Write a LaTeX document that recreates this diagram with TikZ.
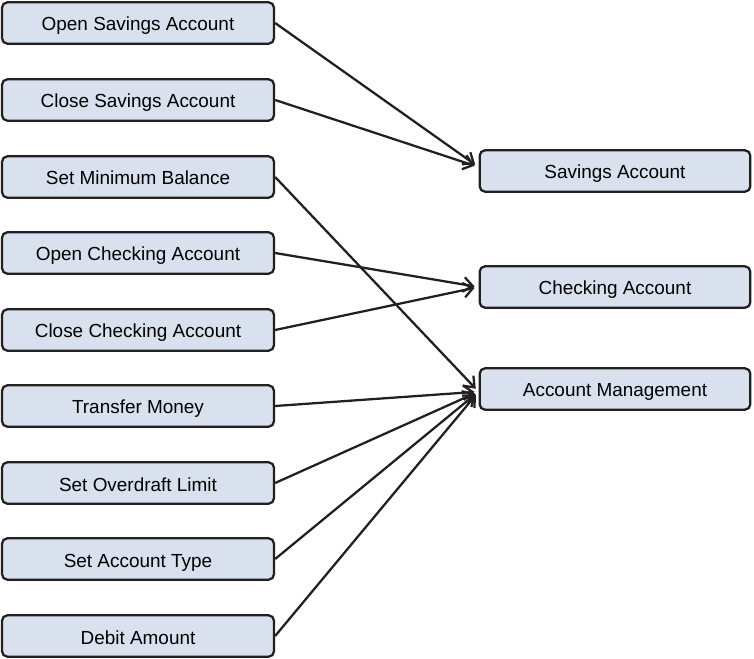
\documentclass[tikz,border=0pt]{standalone}
\usepackage{fontspec}
\setmainfont{Liberation Sans}
\usetikzlibrary{arrows.meta}
\definecolor{boxfill}{RGB}{216,225,237}
\definecolor{edge}{RGB}{35,31,32}
\begin{document}
\begin{tikzpicture}[
    x=0.75pt, y=-0.75pt,
    every node/.style={draw=edge, line width=1.7pt, rectangle, rounded corners=4pt, fill=boxfill,
        font=\fontsize{14.2}{17}\selectfont, minimum height=31pt, inner sep=0pt,
        text height=12pt, text depth=0pt},
    action/.style={minimum width=204pt},
    target/.style={minimum width=203pt},
    link/.style={draw=edge, line width=1.7pt, -{Straight Barb[length=7pt,width=11pt,line width=1.7pt]}, shorten >=3pt}
]
\useasboundingbox (0,0) rectangle (754,659);
% operations
\node[action] (osa) at (138,23)  {Open Savings Account};
\node[action] (csa) at (138,100) {Close Savings Account};
\node[action] (smb) at (138,177) {Set Minimum Balance};
\node[action] (oca) at (138,253) {Open Checking Account};
\node[action] (cca) at (138,330) {Close Checking Account};
\node[action] (trm) at (138,406) {Transfer Money};
\node[action] (sol) at (138,483) {Set Overdraft Limit};
\node[action] (sat) at (138,559) {Set Account Type};
\node[action] (dba) at (138,636) {Debit Amount};
% classes
\node[target] (sav) at (615,171) {Savings Account};
\node[target] (chk) at (615,287) {Checking Account};
\node[target] (mgt) at (615,389) {Account Management};
% links
\draw[link] (osa.east) -- ([yshift=3pt]sav.west);
\draw[link] (csa.east) -- ([yshift=3pt]sav.west);
\draw[link] (oca.east) -- (chk.west);
\draw[link] (cca.east) -- (chk.west);
\draw[link] (smb.east) -- ([yshift=-2pt]mgt.west);
\draw[link] (trm.east) -- ([yshift=-2pt]mgt.west);
\draw[link] (sol.east) -- ([yshift=-2pt]mgt.west);
\draw[link] (sat.east) -- ([yshift=-2pt]mgt.west);
\draw[link] (dba.east) -- ([yshift=-2pt]mgt.west);
\end{tikzpicture}
\end{document}
